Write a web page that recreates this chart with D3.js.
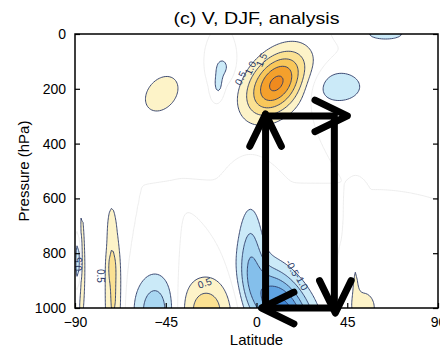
<!DOCTYPE html>
<html>
<head>
<meta charset="utf-8">
<script src="https://cdnjs.cloudflare.com/ajax/libs/d3/7.8.5/d3.min.js"></script>
<style>
  body { margin: 0; background: #fff; }
  svg { display: block; font-family: "Liberation Sans", Arial, sans-serif; }
</style>
</head>
<body>
<svg id="chart" width="440" height="349"></svg>
<script>
// Axis ticks and contour levels
const latTicks = [-90, -45, 0, 45, 90];
const presTicks = [0, 200, 400, 600, 800, 1000];
const levels = [0.5, 1.0, 1.5, 2.0, 2.5, 3.0];
const posColors = ['#fdf3c8', '#fbe192', '#f8c75a', '#f4a02c', '#f08a1e', '#e8761a'];
const negColors = ['#cbeaf8', '#a9d7f2', '#84bfeb', '#5fa3e2', '#3f86d6', '#2a6bc8'];

// Anomaly centres: latitude, pressure, amplitude,
// half-widths (deg, hPa) and tilt (deg latitude per hPa)
const blobLat  = [10,   -17,   -19,   -47,   40.5,  64,    -3,    13,    53,   49,   -25,  -50,   -71,  -72,  -72,  -87,  -88.5];
const blobPres = [180,  122,   190,   218,   192,   0,     800,   1010,  1000, 880,  1010, 1010,  950,  700,  845,  850,  830];
const blobAmp  = [2.65, -0.62, -0.6,  0.75,  -0.8,  -0.62, -1.05, -2.75, 0.75, 0.45, 1.3,  -1.4,  1.1,  0.4,  0.35, 0.8,  -1.5];
const blobSLat = [9.8,  3.8,   1.8,   8.5,   11,    12,    4.5,   10,    6,    1.5,  10,   7.5,   3.2,  1.5,  1.5,  2,    1];
const blobSPres= [84,   38,    30,    70,    53,    28,    130,   110,   60,   60,   90,   95,    190,  60,   40,   200,  70];
const blobTilt = [-0.05, 0,    0,     -0.04, 0,     0,     0,     0.05,  0,    0,    0,    0,     0,    0,    0,    0,    0];

// Contour labels
const labelText  = ['0.5', '1.0', '1.5', '-0.5', '-1.0', '0.5', '0.5', '0.5'];
const labelLat   = [-7.9, -3.0, 2.5, 17.8, 22.3, -25.7, -77.6, -88.3];
const labelPres  = [161, 124, 95, 854, 905, 909, 883, 840];
const labelAngle = [-65, -65, -65, 62, 62, -20, 90, -90];

// Overturning loop drawn on top (latitude and pressure of its corners)
const loopLat = [4.5, 38.6];
const loopPres = [299, 1000];

window.addEventListener('load', () => {
    const margin = { top: 34, right: 2, bottom: 41, left: 75 };
    const width = 438 - margin.left;
    const height = 308 - margin.top;

    const svg = d3.select('#chart');
    const g = svg.append('g')
        .attr('transform', `translate(${margin.left},${margin.top})`);

    const xScale = d3.scaleLinear().domain([-90, 90]).range([0, width]);
    const yScale = d3.scaleLinear().domain([0, 1000]).range([0, height]);

    // Build the gridded field from the anomaly centres
    const dLat = 1, dP = 5;
    const nx = 181, ny = 201;
    const values = new Array(nx * ny);
    for (let j = 0; j < ny; j++) {
        const p = j * dP;
        for (let i = 0; i < nx; i++) {
            const lat = -90 + i * dLat;
            let v = 0;
            for (let k = 0; k < blobLat.length; k++) {
                const c = blobLat[k] + blobTilt[k] * (p - blobPres[k]);
                const a = (lat - c) / blobSLat[k];
                const b = (p - blobPres[k]) / blobSPres[k];
                v += blobAmp[k] * Math.exp(-0.5 * (a * a + b * b));
            }
            values[j * nx + i] = v;
        }
    }
    const negValues = values.map(v => -v);

    const toPx = d3.geoTransform({
        point: function (x, y) {
            this.stream.point(xScale(-90 + (x - 0.5) * dLat), yScale((y - 0.5) * dP));
        }
    });
    const path = d3.geoPath(toPx);

    g.append('clipPath').attr('id', 'plot-clip')
        .append('rect').attr('width', width).attr('height', height);

    const plot = g.append('g').attr('clip-path', 'url(#plot-clip)');

    const contours = d3.contours().size([nx, ny]);
    const posBands = contours.thresholds(levels)(values);
    const negBands = contours.thresholds(levels)(negValues);
    const zero = contours.thresholds([0])(values);

    // Faint zero line
    plot.selectAll('.zero')
        .data(zero)
        .enter().append('path')
        .attr('class', 'zero')
        .attr('d', path)
        .attr('fill', 'none')
        .attr('stroke', '#e9e9e9')
        .attr('stroke-width', 0.8);

    plot.selectAll('.pos')
        .data(posBands)
        .enter().append('path')
        .attr('class', 'pos')
        .attr('d', path)
        .attr('fill', (d, i) => posColors[i])
        .attr('stroke', '#2b3a67')
        .attr('stroke-width', 0.9);

    plot.selectAll('.neg')
        .data(negBands)
        .enter().append('path')
        .attr('class', 'neg')
        .attr('d', path)
        .attr('fill', (d, i) => negColors[i])
        .attr('stroke', '#2b3a67')
        .attr('stroke-width', 0.9);

    // Contour labels
    plot.selectAll('.clabel')
        .data(labelText)
        .enter().append('text')
        .attr('class', 'clabel')
        .attr('transform', (d, i) => `translate(${xScale(labelLat[i])},${yScale(labelPres[i])}) rotate(${labelAngle[i]})`)
        .attr('text-anchor', 'middle')
        .attr('dy', '0.35em')
        .attr('font-size', 10)
        .attr('fill', '#2b3a67')
        .text(d => d);

    // Axes with inward ticks
    const xAxis = d3.axisBottom(xScale).tickValues(latTicks).tickSize(-5).tickPadding(9);
    const yAxis = d3.axisLeft(yScale).tickValues(presTicks).tickSize(-5).tickPadding(9).tickFormat(d3.format('d'));
    const yAxisRight = d3.axisRight(yScale).tickValues(presTicks).tickSize(-5).tickFormat('');

    const xAxisGroup = g.append('g').attr('transform', `translate(0,${height})`).call(xAxis);
    const yAxisGroup = g.append('g').call(yAxis);
    const yRightGroup = g.append('g').attr('transform', `translate(${width},0)`).call(yAxisRight);
    [xAxisGroup, yAxisGroup, yRightGroup].forEach(ax => {
        ax.select('.domain').remove();
        ax.selectAll('line').attr('stroke', '#000').attr('stroke-width', 1.2);
        ax.selectAll('text').attr('font-size', 14).attr('fill', '#000');
    });

    g.append('rect')
        .attr('width', width)
        .attr('height', height)
        .attr('fill', 'none')
        .attr('stroke', '#000')
        .attr('stroke-width', 1.5);

    // Loop arrows
    const x0 = xScale(loopLat[0]), x1 = xScale(loopLat[1]);
    const y0 = yScale(loopPres[0]), y1 = yScale(loopPres[1]);
    const arrows = g.append('g')
        .attr('stroke', '#000')
        .attr('stroke-width', 7)
        .attr('fill', 'none')
        .attr('stroke-linecap', 'round')
        .attr('stroke-linejoin', 'round');

    arrows.append('path')
        .attr('d', `M${x0},${y1}L${x0},${y0}L${x1},${y0}L${x1},${y1}Z`)
        .attr('stroke-linecap', 'butt')
        .attr('stroke-linejoin', 'miter');

    const headLen = 36, headAng = 26 * Math.PI / 180;
    const heads = [
        { x: x0, y: y0 - 2, dx: 0, dy: -1 },
        { x: x1 + 13, y: y0, dx: 1, dy: 0 },
        { x: x1 + 1, y: y1 + 5, dx: 0, dy: 1 },
        { x: x0 - 4, y: y1, dx: -1, dy: 0 }
    ];
    heads.forEach(h => {
        const back = Math.atan2(-h.dy, -h.dx);
        const a1 = back + headAng, a2 = back - headAng;
        arrows.append('path')
            .attr('d', `M${h.x + headLen * Math.cos(a1)},${h.y + headLen * Math.sin(a1)}L${h.x},${h.y}L${h.x + headLen * Math.cos(a2)},${h.y + headLen * Math.sin(a2)}`);
    });

    // Title and axis labels
    svg.append('text')
        .attr('x', margin.left + width / 2)
        .attr('y', 24)
        .attr('text-anchor', 'middle')
        .attr('font-size', 17)
        .attr('textLength', 166)
        .attr('lengthAdjust', 'spacingAndGlyphs')
        .text('(c) V, DJF, analysis');

    svg.append('text')
        .attr('x', margin.left + width / 2)
        .attr('y', 345)
        .attr('text-anchor', 'middle')
        .attr('font-size', 15)
        .text('Latitude');

    svg.append('text')
        .attr('transform', `translate(29,${margin.top + height / 2}) rotate(-90)`)
        .attr('text-anchor', 'middle')
        .attr('font-size', 15)
        .text('Pressure (hPa)');
});
</script>
</body>
</html>
